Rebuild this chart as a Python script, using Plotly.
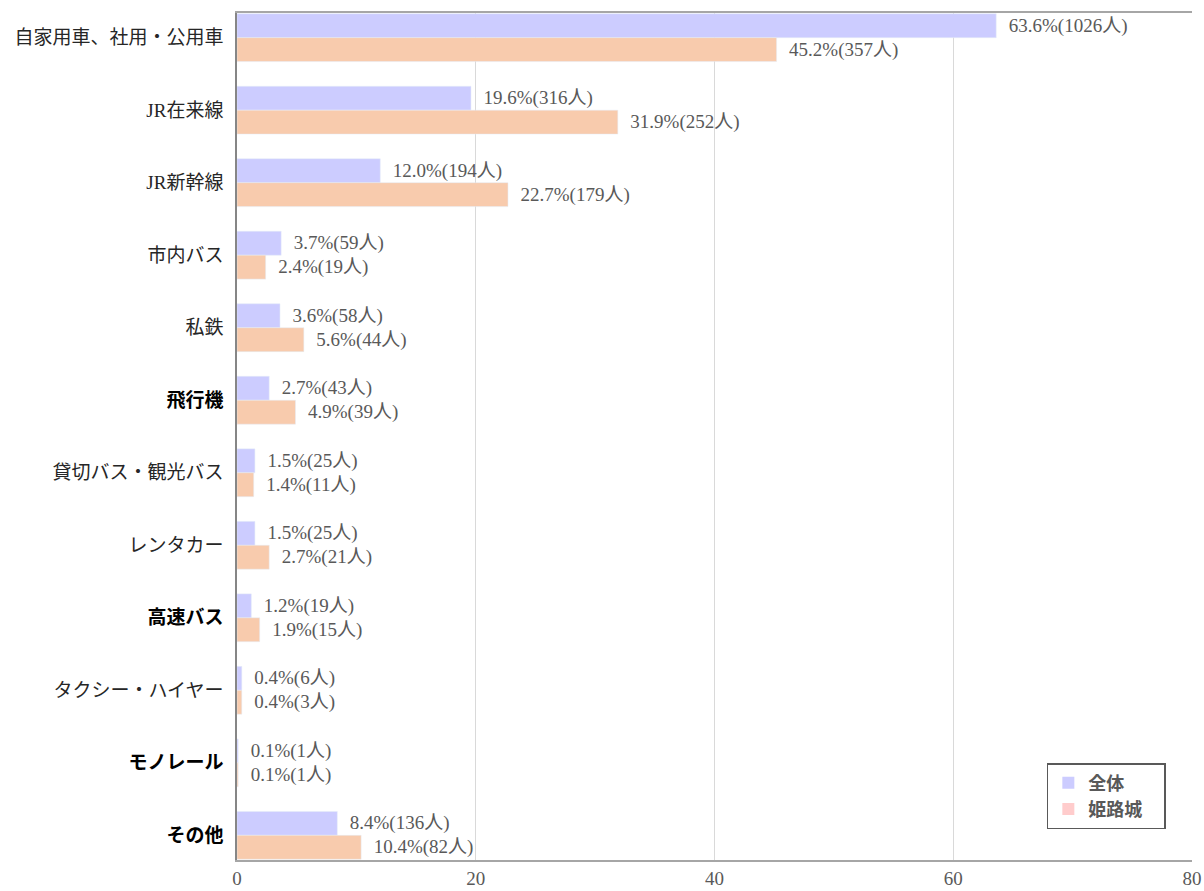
import plotly.graph_objects as go

categories = ["自家用車、社用・公用車", "JR在来線", "JR新幹線", "市内バス", "私鉄", "飛行機",
              "貸切バス・観光バス", "レンタカー", "高速バス", "タクシー・ハイヤー", "モノレール", "その他"]
bold_categories = ["飛行機", "高速バス", "モノレール", "その他"]
all_pct = [63.6, 19.6, 12.0, 3.7, 3.6, 2.7, 1.5, 1.5, 1.2, 0.4, 0.1, 8.4]
all_cnt = [1026, 316, 194, 59, 58, 43, 25, 25, 19, 6, 1, 136]
himeji_pct = [45.2, 31.9, 22.7, 2.4, 5.6, 4.9, 1.4, 2.7, 1.9, 0.4, 0.1, 10.4]
himeji_cnt = [357, 252, 179, 19, 44, 39, 11, 21, 15, 3, 1, 82]
series_names = ["全体", "姫路城"]
x_ticks = [0, 20, 40, 60, 80]

SERIF = "Liberation Serif, Noto Sans CJK JP, serif"
SANS = "Noto Sans CJK JP, sans-serif"

def labels(p, c):
    return [f"\u00a0\u00a0{a:.1f}%({b}人)" for a, b in zip(p, c)]

ticktext = []
for c in categories:
    if c in bold_categories:
        ticktext.append(f"<span style='font-family:Noto Sans CJK JP;color:#000000'><b>{c}</b></span>")
    else:
        ticktext.append(c)

fig = go.Figure()
fig.add_trace(go.Bar(
    y=categories, x=all_pct, orientation="h", name=series_names[0],
    marker=dict(color="#CCCCFF"), showlegend=False,
    text=labels(all_pct, all_cnt), textposition="outside", cliponaxis=False,
    textfont=dict(family=SERIF, size=19, color="#595959"),
))
fig.add_trace(go.Bar(
    y=categories, x=himeji_pct, orientation="h", name=series_names[1],
    marker=dict(color="#F8CBAD"), showlegend=False,
    text=labels(himeji_pct, himeji_cnt), textposition="outside", cliponaxis=False,
    textfont=dict(family=SERIF, size=19, color="#595959"),
))
# legend entries (Excel-style legend swatches)
for nm, col in zip(series_names, ["#CCCCFF", "#FFCCCC"]):
    fig.add_trace(go.Scatter(
        x=[None], y=[None], mode="markers", name=nm + "\u00a0\u00a0\u00a0\u00a0",
        marker=dict(symbol="square", size=12, color=col), hoverinfo="skip",
    ))

fig.update_layout(
    width=1204, height=891,
    margin=dict(l=237, r=12, t=13, b=31, autoexpand=False),
    plot_bgcolor="white", paper_bgcolor="white",
    barmode="group", bargap=0.34, bargroupgap=0,
    showlegend=True,
    legend=dict(
        x=0.848, y=0.1145, xanchor="left", yanchor="top",
        bordercolor="#595959", borderwidth=1.5, bgcolor="white",
        font=dict(family=SANS, size=18, color="#595959", weight="bold"),
        itemwidth=30, traceorder="normal", tracegroupgap=0,
    ),
)
fig.update_xaxes(
    range=[0, 80], tickvals=x_ticks, ticktext=[str(v) for v in x_ticks],
    showgrid=True, gridcolor="#D9D9D9", gridwidth=1,
    zeroline=False, showline=True, linecolor="#A6A6A6", linewidth=1.5, mirror=True,
    tickfont=dict(family=SERIF, size=19, color="#595959"),
    ticks="", automargin=False,
)
fig.update_yaxes(
    type="category", categoryorder="array", categoryarray=categories,
    range=[11.34, -0.34],
    tickvals=categories, ticktext=ticktext,
    showline=True, linecolor="#868686", linewidth=1.5, mirror=False,
    showgrid=False, ticks="", ticklabelstandoff=8,
    tickfont=dict(family=SERIF, size=19, color="#262626"),
    automargin=False,
)
fig.write_html(
    "out.html",
    config={"displayModeBar": False},
    post_script="document.body.style.margin='0';document.body.style.overflow='hidden';",
)
